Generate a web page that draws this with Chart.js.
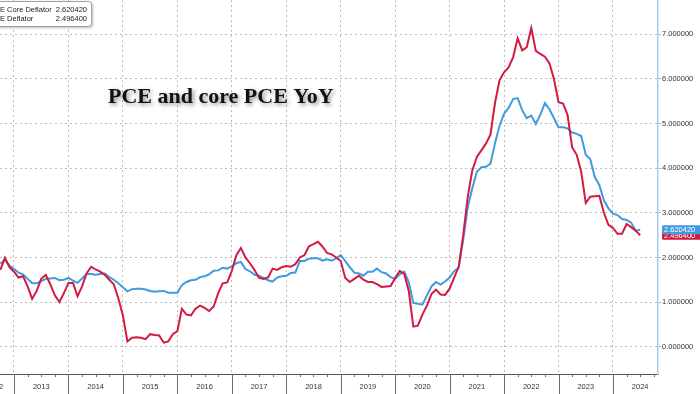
<!DOCTYPE html>
<html>
<head>
<meta charset="utf-8">
<script src="https://cdn.jsdelivr.net/npm/chart.js@4.4.1/dist/chart.umd.min.js"></script>
<style>
  html, body { margin: 0; padding: 0; background: #fff; overflow: hidden; }
  canvas { display: block; }
</style>
</head>
<body>
<canvas id="pceChart" width="700" height="394"></canvas>
<script>
// monthly YoY %, first point Sep 2012, last Jun 2024
const START = 2012 + 9 / 12;

const pceDeflator = [
    1.72, 1.99, 1.78, 1.68,
    1.55, 1.58, 1.35, 1.07, 1.25, 1.52, 1.61, 1.40, 1.15, 1.00, 1.20, 1.43,
    1.43, 1.13, 1.35, 1.64, 1.79, 1.73, 1.68, 1.61, 1.50, 1.40, 1.08, 0.70,
    0.12, 0.20, 0.21, 0.20, 0.17, 0.28, 0.26, 0.25, 0.09, 0.12, 0.28, 0.35,
    0.85, 0.72, 0.70, 0.85, 0.92, 0.87, 0.80, 0.90, 1.20, 1.42, 1.44, 1.70,
    2.05, 2.21, 2.00, 1.87, 1.72, 1.54, 1.52, 1.55, 1.75, 1.72, 1.78, 1.81,
    1.79, 1.85, 2.00, 2.05, 2.25, 2.30, 2.35, 2.24, 2.10, 2.07, 2.00, 1.92,
    1.54, 1.45, 1.52, 1.59, 1.50, 1.45, 1.45, 1.40, 1.34, 1.35, 1.36, 1.54,
    1.70, 1.63, 1.25, 0.45, 0.47, 0.72, 0.92, 1.18, 1.28, 1.17, 1.16, 1.30,
    1.55, 1.79, 2.50, 3.36, 3.95, 4.25, 4.40, 4.55, 4.75, 5.46, 5.97, 6.15,
    6.26, 6.49, 6.91, 6.64, 6.71, 7.14, 6.63, 6.56, 6.50, 6.35, 6.00, 5.48,
    5.45, 5.19, 4.47, 4.30, 3.92, 3.22, 3.36, 3.37, 3.38, 3.00, 2.73, 2.66,
    2.53, 2.53, 2.75, 2.68, 2.60, 2.4964
];

const coreDeflator = [
    1.86, 1.95, 1.82, 1.74,
    1.66, 1.62, 1.52, 1.42, 1.42, 1.47, 1.52, 1.53, 1.54, 1.49, 1.50, 1.54,
    1.48, 1.43, 1.53, 1.63, 1.63, 1.61, 1.63, 1.64, 1.56, 1.50, 1.42, 1.33,
    1.24, 1.29, 1.30, 1.30, 1.28, 1.25, 1.23, 1.24, 1.25, 1.21, 1.21, 1.21,
    1.38, 1.45, 1.49, 1.50, 1.56, 1.58, 1.62, 1.70, 1.71, 1.77, 1.75, 1.80,
    1.87, 1.90, 1.74, 1.69, 1.61, 1.59, 1.54, 1.49, 1.46, 1.55, 1.58, 1.59,
    1.65, 1.66, 1.92, 1.92, 1.97, 1.98, 1.98, 1.93, 1.96, 1.93, 1.98, 2.05,
    1.92, 1.78, 1.66, 1.64, 1.59, 1.68, 1.68, 1.75, 1.67, 1.64, 1.56, 1.52,
    1.62, 1.68, 1.45, 0.98, 0.96, 0.94, 1.15, 1.35, 1.45, 1.39, 1.46, 1.55,
    1.69, 1.77, 2.40, 3.13, 3.55, 3.92, 4.02, 4.03, 4.10, 4.56, 4.95, 5.22,
    5.35, 5.55, 5.57, 5.30, 5.12, 5.18, 4.99, 5.20, 5.46, 5.32, 5.12, 4.92,
    4.92, 4.89, 4.80, 4.77, 4.72, 4.30, 4.20, 3.80, 3.62, 3.28, 3.10, 2.98,
    2.95, 2.86, 2.84, 2.78, 2.60, 2.6204
];

const years = [2013, 2014, 2015, 2016, 2017, 2018, 2019, 2020, 2021, 2022, 2023, 2024];
const yTicks = [0, 1, 2, 3, 4, 5, 6, 7];
const seriesNames = ["PCE Core Deflator", "PCE Deflator"];
const lastLabels = ["2.620420", "2.496400"];
const chartTitle = "PCE and core PCE YoY";

const RED = "#d41a40";
const BLUE = "#3f9bdf";
const LABEL_FONT = '7.5px "Liberation Sans", Arial, sans-serif';

const toPoints = arr => arr.map((v, i) => ({ x: START + i / 12, y: v }));

const overlay = {
    id: "overlay",
    afterDraw(chart) {
        const { ctx, chartArea, scales } = chart;
        const x = scales.x, y = scales.y;
        const bottom = chartArea.bottom;
        ctx.save();

        // year separators and quarter ticks under the axis
        ctx.strokeStyle = "#6a6a6a";
        ctx.lineWidth = 1;
        years.forEach(yr => {
            const px = Math.round(x.getPixelForValue(yr)) + 0.5;
            ctx.beginPath();
            ctx.moveTo(px, bottom);
            ctx.lineTo(px, chart.height);
            ctx.stroke();
            for (let q = 1; q < 4; q++) {
                const qx = Math.round(x.getPixelForValue(yr + q / 4)) + 0.5;
                if (qx > chartArea.right) continue;
                ctx.beginPath();
                ctx.moveTo(qx, bottom);
                ctx.lineTo(qx, bottom + 3);
                ctx.stroke();
            }
        });

        // legend box (cut at the left edge)
        ctx.save();
        ctx.shadowColor = "rgba(0,0,0,0.35)";
        ctx.shadowBlur = 3;
        ctx.shadowOffsetX = 1;
        ctx.shadowOffsetY = 1;
        ctx.fillStyle = "#fff";
        ctx.beginPath();
        ctx.roundRect(-30, 1.5, 121.5, 25, 3);
        ctx.fill();
        ctx.restore();
        ctx.strokeStyle = "#a0a0a0";
        ctx.lineWidth = 1;
        ctx.beginPath();
        ctx.roundRect(-30, 1.5, 121.5, 25, 3);
        ctx.stroke();

        ctx.font = LABEL_FONT;
        ctx.fillStyle = "#222";
        ctx.textBaseline = "middle";
        ctx.textAlign = "left";
        ctx.fillText(seriesNames[0], -10.4, 10);
        ctx.fillText(seriesNames[1], -10.4, 19);
        ctx.textAlign = "right";
        ctx.fillText(lastLabels[0], 87, 10);
        ctx.fillText(lastLabels[1], 87, 19);

        // title
        ctx.save();
        ctx.font = 'bold 22px "Liberation Serif", "Times New Roman", serif';
        ctx.fillStyle = "#111";
        ctx.textAlign = "left";
        ctx.textBaseline = "alphabetic";
        ctx.shadowColor = "rgba(0,0,0,0.45)";
        ctx.shadowBlur = 4;
        ctx.shadowOffsetX = 2;
        ctx.shadowOffsetY = 2;
        ctx.fillText(chartTitle, 108, 103);
        ctx.restore();

        // last value tags on the right axis, red first so blue sits on top
        const tags = [
            { v: pceDeflator[pceDeflator.length - 1], text: lastLabels[1], color: RED },
            { v: coreDeflator[coreDeflator.length - 1], text: lastLabels[0], color: BLUE }
        ];
        ctx.font = LABEL_FONT;
        ctx.textAlign = "left";
        ctx.textBaseline = "middle";
        tags.forEach(t => {
            const py = y.getPixelForValue(t.v);
            ctx.fillStyle = t.color;
            ctx.beginPath();
            ctx.roundRect(chartArea.right + 4, py - 4.5, 46, 9, 1.5);
            ctx.fill();
            ctx.fillStyle = "#fff";
            ctx.fillText(t.text, chartArea.right + 6, py + 0.5);
        });

        ctx.restore();
    }
};

const ctx = document.getElementById("pceChart").getContext("2d");

const pceChart = new Chart(ctx, {
    type: "line",
    data: {
        datasets: [
            {
                label: seriesNames[1],
                data: toPoints(pceDeflator),
                borderColor: RED,
                borderWidth: 2,
                pointRadius: 0,
                tension: 0
            },
            {
                label: seriesNames[0],
                data: toPoints(coreDeflator),
                borderColor: BLUE,
                borderWidth: 2,
                pointRadius: 0,
                tension: 0
            }
        ]
    },
    options: {
        animation: false,
        responsive: false,
        devicePixelRatio: 1,
        layout: { padding: 0, autoPadding: false },
        plugins: {
            legend: { display: false },
            tooltip: { enabled: false }
        },
        scales: {
            x: {
                type: "linear",
                position: "bottom",
                min: 2012.743,
                max: 2024.827,
                afterBuildTicks: scale => {
                    const t = [{ value: 2012.65 }];
                    years.forEach(yr => {
                        t.push({ value: yr });
                        t.push({ value: yr + 0.5 });
                    });
                    scale.ticks = t;
                },
                afterFit: scale => {
                    scale.height = 20;
                    scale.paddingLeft = 0;
                    scale.paddingRight = 0;
                },
                ticks: {
                    autoSkip: false,
                    maxRotation: 0,
                    padding: 8,
                    color: "#333",
                    font: { family: '"Liberation Sans", Arial, sans-serif', size: 7.5 },
                    callback: v => Number.isInteger(v) ? "" : String(Math.floor(v))
                },
                grid: {
                    drawTicks: false,
                    color: c => (c.tick && Number.isInteger(c.tick.value)) ? "#bcbcbc" : "rgba(0,0,0,0)",
                    lineWidth: 1
                },
                border: { display: true, color: "#555", width: 1, dash: [2, 3] }
            },
            y: {
                position: "right",
                min: -0.612,
                max: 7.769,
                afterBuildTicks: scale => {
                    scale.ticks = yTicks.map(v => ({ value: v }));
                },
                afterFit: scale => {
                    scale.width = 42;
                    scale.paddingTop = 0;
                    scale.paddingBottom = 0;
                },
                ticks: {
                    padding: 1,
                    color: "#333",
                    font: { family: '"Liberation Sans", Arial, sans-serif', size: 7.5 },
                    callback: v => v.toFixed(6)
                },
                grid: {
                    color: "#bcbcbc",
                    lineWidth: 1,
                    tickLength: 3,
                    tickColor: "#8fb8da"
                },
                border: { display: true, color: "#a8cce6", width: 1.5, dash: [2, 3] }
            }
        }
    },
    plugins: [overlay]
});
</script>
</body>
</html>
